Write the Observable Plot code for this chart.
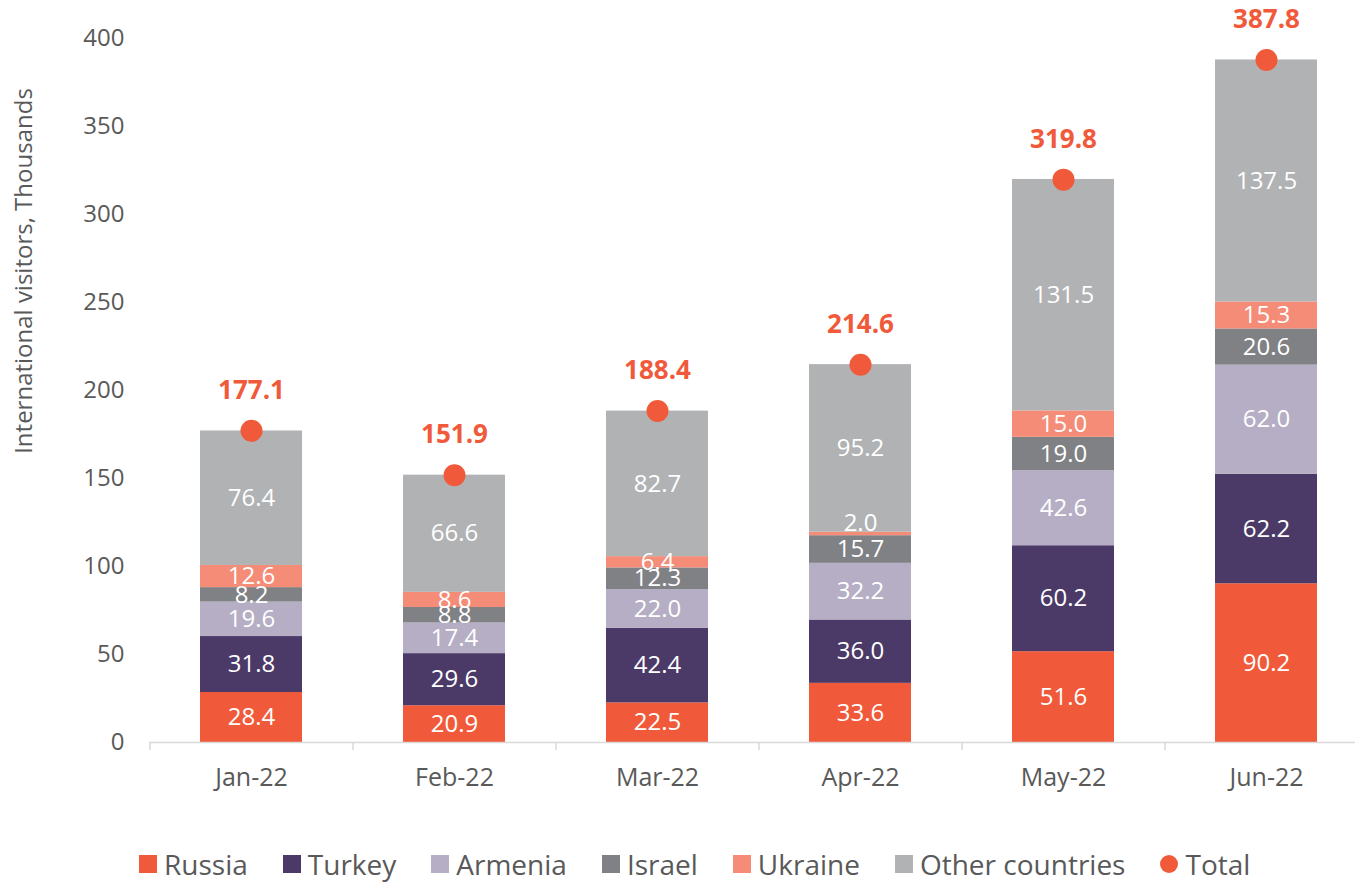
<!DOCTYPE html>
<html><head><meta charset="utf-8">
<script src="https://cdn.jsdelivr.net/npm/d3@7"></script>
<script src="https://cdn.jsdelivr.net/npm/@observablehq/plot@0.6"></script>
<style>
body{margin:0;background:#fff;font-family:"Open Sans",sans-serif;}
#wrap{position:relative;width:1355px;height:883px;overflow:hidden;}
#ylab{position:absolute;left:22px;top:271px;transform:translate(-50%,-50%) rotate(-90deg);white-space:nowrap;font-size:24px;color:#595959;}
#legend{position:absolute;top:848px;left:139px;height:32px;display:flex;align-items:center;font-size:28px;line-height:1;color:#595959;white-space:nowrap;}
.item{display:flex;align-items:center;margin-right:35px;}
.sw{width:18px;height:18px;margin-right:7px;}
.dt{border-radius:50%;}
</style></head>
<body><div id="wrap"><div id="chart"></div><div id="ylab">International visitors, Thousands</div><div id="legend"></div></div>
<script>
const months = ["Jan-22","Feb-22","Mar-22","Apr-22","May-22","Jun-22"];
const seriesNames = ["Russia","Turkey","Armenia","Israel","Ukraine","Other countries"];
const colors = ["#F05A3A","#4B3A68","#B5AEC4","#808184","#F48C78","#B1B2B4"];
const russia  = [28.4,20.9,22.5,33.6,51.6,90.2];
const turkey  = [31.8,29.6,42.4,36.0,60.2,62.2];
const armenia = [19.6,17.4,22.0,32.2,42.6,62.0];
const israel  = [8.2,8.8,12.3,15.7,19.0,20.6];
const ukraine = [12.6,8.6,6.4,2.0,15.0,15.3];
const other   = [76.4,66.6,82.7,95.2,131.5,137.5];
const totals  = [177.1,151.9,188.4,214.6,319.8,387.8];
const yTicks  = [0,50,100,150,200,250,300,350,400];

const seriesVals = [russia,turkey,armenia,israel,ukraine,other];
const rows = [];
months.forEach((m,i)=>{
  let acc = 0;
  seriesVals.forEach((vals,s)=>{
    const v = vals[i];
    rows.push({month:m, series:seriesNames[s], value:v, y1:acc, y2:acc+v, small: v<5});
    acc += v;
  });
});
const totalRows = months.map((m,i)=>({month:m,total:totals[i]}));

const chart = Plot.plot({
  width:1355, height:800,
  marginLeft:149, marginRight:0, marginTop:38, marginBottom:58,
  x:{domain:months, range:[149,1367], paddingInner:0.5, paddingOuter:0.25, label:null},
  y:{domain:[0,400], range:[742,38], label:null},
  color:{domain:seriesNames, range:colors},
  style:{fontFamily:"Open Sans, sans-serif", fontSize:"24px", color:"#595959", background:"#fff"},
  marks:[
    Plot.barY(rows,{x:"month", y1:"y1", y2:"y2", fill:"series"}),
    Plot.text(rows.filter(d=>!d.small),{x:"month", y:d=>(d.y1+d.y2)/2, text:d=>d.value.toFixed(1), fill:"white", fontSize:24}),
    Plot.text(rows.filter(d=>d.small),{x:"month", y:"y2", text:d=>d.value.toFixed(1), fill:"white", fontSize:24, dy:-9}),
    Plot.ruleY([0],{stroke:"#d9d9d9", strokeWidth:1.5}),
    Plot.ruleX(months,{x:d=>d, y1:0, y2:-4.5, dx:-101.5, stroke:"#d9d9d9", strokeWidth:1.5}),
    Plot.dot(totalRows,{x:"month", y:"total", r:11, fill:"#F05A3A"}),
    Plot.text(totalRows,{x:"month", y:"total", text:d=>d.total.toFixed(1), dy:-40, fill:"#F05A3A", fontWeight:"bold", fontSize:26}),
    Plot.axisX({tickSize:0, tickPadding:26, fontSize:25}),
    Plot.axisY({ticks:yTicks, tickSize:0, tickPadding:25, fontSize:24})
  ]
});
document.getElementById("chart").appendChild(chart);

const legend = document.getElementById("legend");
seriesNames.forEach((n,i)=>{
  const it = document.createElement("div"); it.className="item";
  it.innerHTML = `<div class="sw" style="background:${colors[i]}"></div><span>${n}</span>`;
  legend.appendChild(it);
});
const tot = document.createElement("div"); tot.className="item";
tot.innerHTML = `<div class="sw dt" style="background:#F05A3A"></div><span>Total</span>`;
legend.appendChild(tot);
</script></body></html>
